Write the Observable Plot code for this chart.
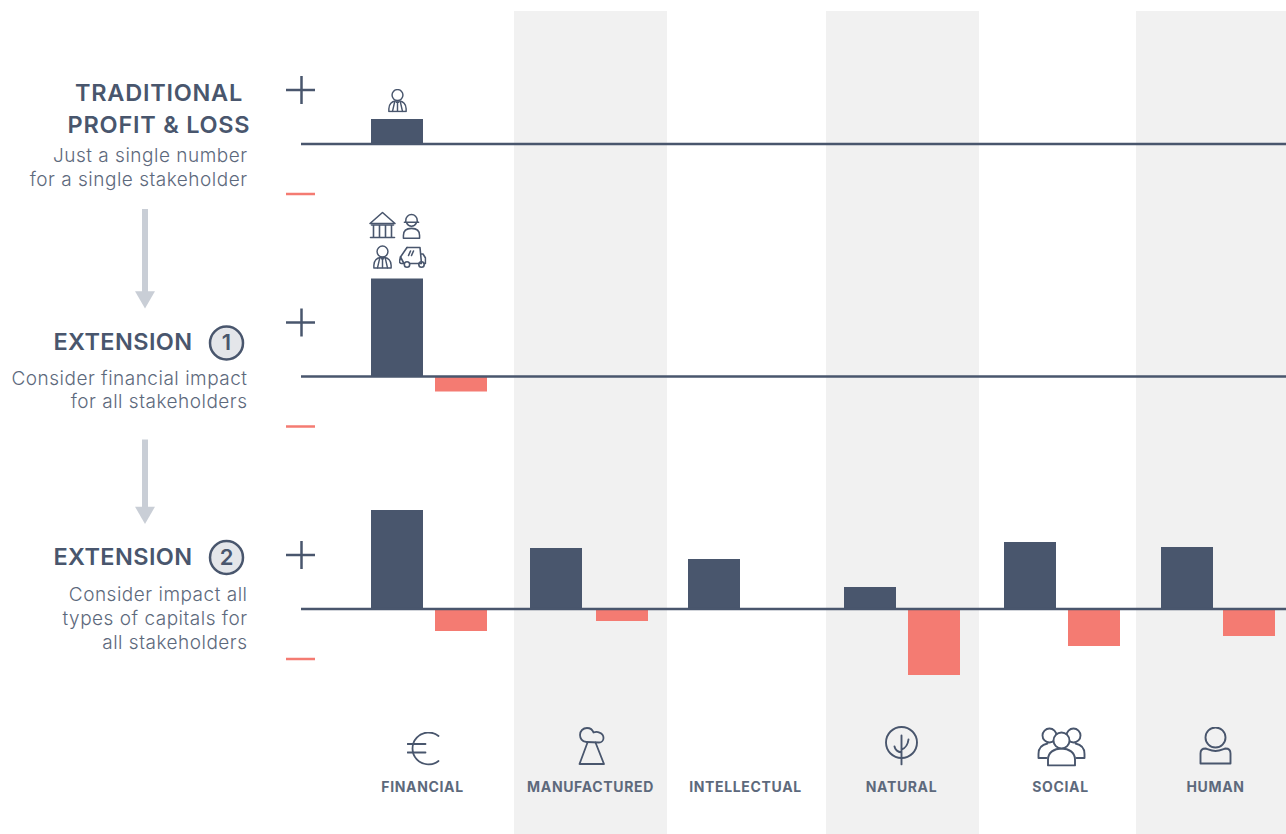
<!DOCTYPE html>
<html><head><meta charset="utf-8">
<script src="https://cdn.jsdelivr.net/npm/d3@7"></script>
<script src="https://cdn.jsdelivr.net/npm/@observablehq/plot@0.6"></script>
<style>
html,body{margin:0;padding:0;background:#fff}
svg{display:block}
.heading text{letter-spacing:.4px}
.headingTop text{letter-spacing:.75px}
.sub text{letter-spacing:.5px}
.cap text{letter-spacing:.65px}
</style></head><body>
<script>
// ---- data: impact, one list per row
const capitals = ["FINANCIAL","MANUFACTURED","INTELLECTUAL","NATURAL","SOCIAL","HUMAN"];
const rows = ["TRADITIONAL","EXTENSION 1","EXTENSION 2"];
const gainRow1 = [25];
const gainRow2 = [98];
const lossRow2 = [15];
const gainRow3 = [99,61,50,22,67,62];
const lossRow3 = [22,12,0,66,37,27];

const headingLines = [
  {row:0,text:"TRADITIONAL",pos:"heading",off:51},
  {row:0,text:"PROFIT & LOSS",pos:"heading",off:19},
  {row:1,text:"EXTENSION",pos:"ext",off:35},
  {row:2,text:"EXTENSION",pos:"ext",off:52}
];
const subLines = [
  {row:0,text:"Just a single number",off:-11},
  {row:0,text:"for a single stakeholder",off:-35},
  {row:1,text:"Consider financial impact",off:-2},
  {row:1,text:"for all stakeholders",off:-25},
  {row:2,text:"Consider impact all",off:15},
  {row:2,text:"types of capitals for",off:-9},
  {row:2,text:"all stakeholders",off:-33}
];
const badges = [{row:1,text:"1",off:34},{row:2,text:"2",off:52}];

// ---- scales: named horizontal stops feed a piecewise x scale
const stops = {
  arrow:144.5,heading:158.5,ext:192,badge:226,subRight:247,
  markL:286,mark:301,markR:315,axisEnd:1290,
  iconBank:382,iconWorker:411,iconVan:412,iconPerson:397,
  "FINANCIAL.gainL":371,"FINANCIAL.gainR":423,"FINANCIAL.lossL":435,"FINANCIAL.lossR":487,"FINANCIAL.label":422,"FINANCIAL.icon":423,
  "MANUFACTURED.gainL":530,"MANUFACTURED.gainR":582,"MANUFACTURED.lossL":596,"MANUFACTURED.lossR":648,"MANUFACTURED.label":590,"MANUFACTURED.icon":591,
  "MANUFACTURED.bandL":514,"MANUFACTURED.bandR":667,
  "INTELLECTUAL.gainL":688,"INTELLECTUAL.gainR":740,"INTELLECTUAL.lossL":752,"INTELLECTUAL.lossR":804,"INTELLECTUAL.label":745,
  "NATURAL.gainL":844,"NATURAL.gainR":896,"NATURAL.lossL":908,"NATURAL.lossR":960,"NATURAL.label":901,"NATURAL.icon":901,
  "NATURAL.bandL":826,"NATURAL.bandR":979,
  "SOCIAL.gainL":1004,"SOCIAL.gainR":1056,"SOCIAL.lossL":1068,"SOCIAL.lossR":1120,"SOCIAL.label":1060,"SOCIAL.icon":1061,
  "HUMAN.gainL":1161,"HUMAN.gainR":1213,"HUMAN.lossL":1223,"HUMAN.lossR":1275,"HUMAN.label":1215,"HUMAN.icon":1215,
  "HUMAN.bandL":1136,"HUMAN.bandR":1290
};
const stopNames = Object.keys(stops).sort((a,b)=>stops[a]-stops[b]);
const X = n => stopNames.indexOf(n);
// each row's zero sits a fixed distance above the next one
const rowGap = 232.5;
const Y = (row,v) => (2-row)*rowGap + v;

const ink="#49566d", text2="#5d697c", salmon="#f47b72", band="#f1f1f1", arrowC="#c9ced6";
const font="Inter";

// ---- icons
const svgURI=(w,h,body,sw=1.6)=>"data:image/svg+xml,"+encodeURIComponent(
 `<svg xmlns="http://www.w3.org/2000/svg" width="${w}" height="${h}" viewBox="0 0 ${w} ${h}"><g fill="none" stroke="${ink}" stroke-width="${sw}" stroke-linecap="round" stroke-linejoin="round">${body}</g></svg>`);
const icons={
 person:svgURI(22,26,`<circle cx="11" cy="7" r="6"/><path d="M1.500 25v-3C1.500 17 5 14 8.500 13.500h5C17 14 20.500 17 20.500 22v3z"/><path d="M8 14 5.500 25M14 14 16.500 25M11 15.500v9M9.800 15h2.400"/>`),
 bank:svgURI(28,28,`<path d="M1.5 12.5 14 1.5l12.5 11z"/><path d="M3 14h22M2 26.5h24M5 14v12M11 14v12M17 14v12M23 14v12"/>`),
 worker:svgURI(20,28,`<path d="M4 10V8a6 6 0 0 1 12 0v2zM2.5 10h15"/><path d="M5 11a5.5 5.5 0 0 0 10 0"/><path d="M1.5 27v-3c0-5 3.5-7.5 8.5-7.5s8.500 2.500 8.500 7.500v3z"/>`),
 van:svgURI(28,22,`<path d="M8.500 1.500H21.500L23 17.500H11.500M5.500 17.500H3a2 2 0 0 1-2-2.300L2 11Z"/><path d="M8.500 1.500 2 11M22.500 8H24.500L27 12V17.500H25.500M12 5 10 9.500M15 5 13 9.500"/><circle cx="8.500" cy="18.500" r="2.700"/><circle cx="23" cy="18.500" r="2.700"/>`),
 euro:svgURI(34,34,`<path d="M32 4.500A16 16 0 1 0 32 29.500"/><path d="M1 12.500h18M1 21h18"/>`,1.8),
 factory:svgURI(28,40,`<path d="M10 17 2 38.500H26.500L18 17"/><path d="M9 16.500C4.500 16.500 2.500 12.500 2.500 9.500 2.500 5.500 5.500 2.500 9.500 2.500c3 0 5.500 1.500 6.500 4.500 1-.5 2-.7 3-.7 1 0 2 .3 3 .8 2.500 1 4 3 4 5.300 0 2.500-2 4.600-4.500 4.600z"/>`,1.8),
 tree:svgURI(34,40,`<circle cx="17" cy="17" r="15.500"/><path d="M17 10v29M17 27Q11 26 10 21M17 24Q23 22 24 14"/>`,1.9),
 people:svgURI(50,40,`<circle cx="13" cy="9" r="7"/><circle cx="37" cy="9" r="7"/><path d="M10 31.500H2v-4c0-6 4-9.500 9-10.500M40 31.500h8v-4c0-6-4-9.500-9-10.500"/><g fill="#fff"><path d="M11.500 39v-6c0-7 6-11 13.500-11s13.500 4 13.500 11v6z"/><circle cx="25" cy="14" r="8"/></g>`,1.9),
 human:svgURI(34,40,`<circle cx="17" cy="11" r="10"/><path d="M2 37V27c0-3 2-5 5-5 3 1 6 2.500 10 2.500S24 23 27 22c3 0 5 2 5 5v10z"/>`,1.9)
};
const topIcons=[
 {row:0,icon:"person",pos:"iconPerson",off:44,w:20,h:24},
 {row:1,icon:"bank",pos:"iconBank",off:152,w:28,h:28},
 {row:1,icon:"worker",pos:"iconWorker",off:151,w:19,h:27},
 {row:1,icon:"person",pos:"iconBank",off:120,w:20,h:24},
 {row:1,icon:"van",pos:"iconVan",off:120,w:28,h:22}
];
const capIcons=[
 {cap:"FINANCIAL",icon:"euro",off:-139,w:34,h:34},
 {cap:"MANUFACTURED",icon:"factory",off:-136,w:28,h:40},
 {cap:"NATURAL",icon:"tree",off:-136,w:34,h:40},
 {cap:"SOCIAL",icon:"people",off:-137,w:50,h:40},
 {cap:"HUMAN",icon:"human",off:-137,w:34,h:40}
];

// ---- table for bars
const bars=[];
const add=(row,list,side)=>list.forEach((v,i)=>{ if(v>0) bars.push({row,cap:capitals[i],side,v}); });
add(0,gainRow1,"gain"); add(1,gainRow2,"gain"); add(1,lossRow2,"loss"); add(2,gainRow3,"gain"); add(2,lossRow3,"loss");

const bandEdges=["MANUFACTURED","NATURAL","HUMAN"];
const arrows=[{row:0,top:-65,bottom:-148,tip:-152.5},{row:1,top:-63,bottom:-131,tip:-135.5}];

const chart=Plot.plot({
  width:1286,height:834,margin:0,
  style:{background:"#fff",fontFamily:font,overflow:"hidden"},
  x:{type:"linear",domain:stopNames.map((_,i)=>i),range:stopNames.map(n=>stops[n]),axis:null},
  y:{type:"linear",domain:[-225,609],range:[834,0],axis:null},
  marks:[
    Plot.rect(bandEdges,{x1:c=>X(c+".bandL"),x2:c=>X(c+".bandR"),y1:-225,y2:598,fill:band}),
    // bars
    Plot.rect(bars,{
      x1:d=>X(d.cap+"."+d.side+"L"),x2:d=>X(d.cap+"."+d.side+"R"),
      y1:d=>Y(d.row,0),y2:d=>Y(d.row,d.side==="gain"?d.v:-d.v),
      fill:d=>d.side==="gain"?ink:salmon
    }),
    // baselines
    Plot.ruleY(rows,{x1:X("mark"),x2:X("axisEnd"),y:(_,i)=>Y(i,0),dy:-0.5,stroke:ink,strokeWidth:2.5}),
    // plus and minus marks
    Plot.ruleY(rows,{x1:X("markL"),x2:X("markR"),y:(_,i)=>Y(i,54),dy:-0.5,stroke:ink,strokeWidth:2.5}),
    Plot.ruleX(rows,{x:X("mark"),y1:(_,i)=>Y(i,40),y2:(_,i)=>Y(i,68),stroke:ink,strokeWidth:2.5}),
    Plot.ruleY(rows,{x1:X("markL"),x2:X("markR"),y:(_,i)=>Y(i,-50),dy:-0.5,stroke:salmon,strokeWidth:2.5}),
    // arrows
    Plot.ruleX(arrows,{x:X("arrow"),y1:d=>Y(d.row,d.top),y2:d=>Y(d.row,d.bottom),stroke:arrowC,strokeWidth:6}),
    Plot.dot(arrows,{x:X("arrow"),y:d=>Y(d.row,d.tip),symbol:"triangle",rotate:180,r:7.4,fill:arrowC,stroke:null}),
    // left texts
    Plot.text(headingLines.filter(d=>d.row===0),{x:d=>X(d.pos),y:d=>Y(d.row,d.off),text:"text",textAnchor:"middle",lineAnchor:"middle",fontSize:23.5,fontWeight:600,fill:ink,className:"headingTop",fontFamily:font}),
    Plot.text(headingLines.filter(d=>d.row>0),{x:d=>X(d.pos),y:d=>Y(d.row,d.off),text:"text",textAnchor:"end",lineAnchor:"middle",fontSize:23.5,fontWeight:600,fill:ink,className:"heading",fontFamily:font}),
    Plot.text(subLines,{x:X("subRight"),y:d=>Y(d.row,d.off),text:"text",textAnchor:"end",lineAnchor:"middle",fontSize:19,fontWeight:300,fill:text2,className:"sub",fontFamily:font}),
    // numbered badges
    Plot.dot(badges,{x:X("badge"),y:d=>Y(d.row,d.off),r:16.500,fill:"#e4e6ea",stroke:ink,strokeWidth:2.500}),
    Plot.text(badges,{x:X("badge"),y:d=>Y(d.row,d.off),text:"text",lineAnchor:"middle",fontSize:22,fontWeight:600,fill:ink,fontFamily:font}),
    // stakeholder and capital icons
    Plot.image(topIcons,{x:d=>X(d.pos),y:d=>Y(d.row,d.off),src:d=>icons[d.icon],width:d=>d.w,height:d=>d.h}),
    Plot.image(capIcons,{x:d=>X(d.cap+".icon"),y:d=>Y(2,d.off),src:d=>icons[d.icon],width:d=>d.w,height:d=>d.h}),
    // capital labels
    Plot.text(capitals,{x:c=>X(c+".label"),y:Y(2,-178),text:c=>c,lineAnchor:"middle",fontSize:14,fontWeight:700,fill:text2,className:"cap",fontFamily:font})
  ]
});
document.body.appendChild(chart);
</script>
</body></html>
